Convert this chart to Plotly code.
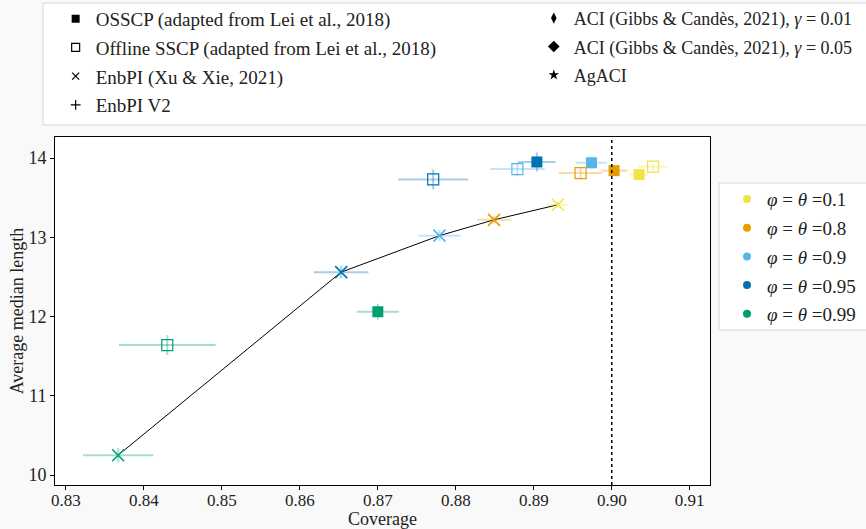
import plotly.graph_objects as go

# ---------------- data ----------------
levels = ["0.1", "0.8", "0.9", "0.95", "0.99"]
colors = ["#F0E442", "#E69F00", "#56B4E9", "#0072B2", "#009E73"]

# EnbPI (Xu & Xie, 2021)
enbpi_cov = [0.8931, 0.8849, 0.8779, 0.8653, 0.8367]
enbpi_len = [13.41, 13.22, 13.02, 12.56, 10.25]
enbpi_cov_err = [0.0014, 0.0022, 0.0027, 0.0035, 0.0045]
enbpi_len_err = [0.05, 0.05, 0.07, 0.08, 0.09]

# OSSCP (adapted from Lei et al., 2018)
osscp_cov = [0.9035, 0.9003, 0.8974, 0.8904, 0.8700]
osscp_len = [13.79, 13.84, 13.94, 13.95, 12.06]
osscp_cov_err = [0.0012, 0.0017, 0.0020, 0.0024, 0.0027]
osscp_len_err = [0.05, 0.06, 0.075, 0.12, 0.10]

# Offline SSCP (adapted from Lei et al., 2018)
offline_cov = [0.9053, 0.8960, 0.8879, 0.8771, 0.8430]
offline_len = [13.89, 13.81, 13.86, 13.73, 11.64]
offline_cov_err = [0.0019, 0.0028, 0.0035, 0.0045, 0.0062]
offline_len_err = [0.05, 0.06, 0.09, 0.126, 0.125]

TARGET = 0.90

x_ticks = [0.83, 0.84, 0.85, 0.86, 0.87, 0.88, 0.89, 0.90, 0.91]
y_ticks = [10, 11, 12, 13, 14]

FONT = "Liberation Serif"
FS = 19


def rgba(hex_color, a):
    h = hex_color.lstrip("#")
    r, g, b = int(h[0:2], 16), int(h[2:4], 16), int(h[4:6], 16)
    return f"rgba({r},{g},{b},{a})"


fig = go.Figure()

# connecting line for EnbPI
fig.add_trace(go.Scatter(x=enbpi_cov, y=enbpi_len, mode="lines",
                         line=dict(color="black", width=1), showlegend=False,
                         hoverinfo="skip"))

methods = [
    (offline_cov, offline_len, offline_cov_err, offline_len_err, "square-open", 11, 1.2),
    (osscp_cov, osscp_len, osscp_cov_err, osscp_len_err, "square", 11, 0),
    (enbpi_cov, enbpi_len, enbpi_cov_err, enbpi_len_err, "x-thin", 12, 1.6),
]
for cov, ln, cerr, lerr, sym, size, lw in methods:
    for i, c in enumerate(colors):
        marker = dict(symbol=sym, size=size, color=c)
        if sym != "square":
            marker["line"] = dict(color=c, width=lw)
        else:
            marker["line"] = dict(width=0)
        fig.add_trace(go.Scatter(
            x=[cov[i]], y=[ln[i]], mode="markers", marker=marker, showlegend=False,
            error_x=dict(type="data", array=[cerr[i]], color=rgba(c, 0.35), thickness=2, width=0),
            error_y=dict(type="data", array=[lerr[i]], color=rgba(c, 0.35), thickness=2, width=0),
        ))

# legend-only entries (method legend)
col1 = [
    ("OSSCP (adapted from Lei et al., 2018)", "square", 8, 0),
    ("Offline SSCP (adapted from Lei et al., 2018)", "square-open", 8, 1.2),
    ("EnbPI (Xu &amp; Xie, 2021)", "x-thin", 7, 1.2),
    ("EnbPI V2", "cross-thin", 7, 1.2),
]
col2 = [
    ("ACI (Gibbs &amp; Candès, 2021), <i>γ</i> = 0.01", "diamond-tall", 8, 0),
    ("ACI (Gibbs &amp; Candès, 2021), <i>γ</i> = 0.05", "diamond", 9, 0),
    ("AgACI", "star", 8, 0),
]
for lg, entries in (("legend", col1), ("legend2", col2)):
    for k, (name, sym, size, lw) in enumerate(entries):
        fig.add_trace(go.Scatter(
            x=[None], y=[None], mode="markers", name=name, legend=lg,
            legendgroup=f"{lg}_{k}",
            marker=dict(symbol=sym, size=size, color="black",
                        line=dict(color="black", width=lw)),
        ))

# colour legend
for k, (lev, c) in enumerate(zip(levels, colors)):
    fig.add_trace(go.Scatter(
        x=[None], y=[None], mode="markers", legend="legend3",
        legendgroup=f"c_{k}",
        name=f"<i>φ</i> = <i>θ</i> ={lev}",
        marker=dict(symbol="circle", size=8, color=c),
    ))

# target coverage line
fig.add_shape(type="line", xref="x", yref="paper", x0=TARGET, x1=TARGET, y0=0, y1=1,
              line=dict(color="black", width=1.5, dash="dot"))

# legend boxes
fig.add_shape(type="rect", xref="paper", yref="paper", x0=-0.0183, x1=1.26,
              y0=1.0345, y1=1.385, line=dict(color="#d6d6d6", width=1),
              fillcolor="white", layer="below")
fig.add_shape(type="rect", xref="paper", yref="paper", x0=1.0137, x1=1.26,
              y0=0.4454, y1=0.8678, line=dict(color="#d6d6d6", width=1),
              fillcolor="white", layer="below")


def legend_style(size):
    return dict(bgcolor="rgba(0,0,0,0)", borderwidth=0,
                font=dict(family=FONT, size=size, color="#222"),
                tracegroupgap=1, xanchor="left", yanchor="top",
                orientation="v", itemsizing="trace")


fig.update_layout(
    width=866, height=529,
    margin=dict(l=55, r=156, t=137, b=44, autoexpand=False),
    paper_bgcolor="#f9f9f9",
    plot_bgcolor="white",
    font=dict(family=FONT, size=FS, color="#222"),
    legend=dict(x=0.001, y=1.394, **legend_style(FS)),
    legend2=dict(x=0.731, y=1.394, **{**legend_style(18), "tracegroupgap": 2}),
    legend3=dict(x=1.026, y=0.876, **legend_style(FS)),
    xaxis=dict(range=[0.8286, 0.9126], tickvals=x_ticks, tickformat=".2f",
               showgrid=False, zeroline=False, showline=True, mirror=True,
               linecolor="black", linewidth=1, ticks="outside", ticklen=4,
               tickcolor="black", automargin=False, ticklabelstandoff=-4,
               tickfont=dict(size=17),
               title=dict(text="Coverage", standoff=5, font=dict(size=18))),
    yaxis=dict(range=[9.874, 14.265], tickvals=y_ticks,
               showgrid=False, zeroline=False, showline=True, mirror=True,
               linecolor="black", linewidth=1, ticks="outside", ticklen=4,
               tickcolor="black", automargin=False, tickfont=dict(size=18),
               title=dict(text="Average median length", standoff=0, font=dict(size=18))),
)

fig.write_html("out.html", config={"displayModeBar": False},
               post_script="document.body.style.margin='0';document.body.style.padding='0';")
